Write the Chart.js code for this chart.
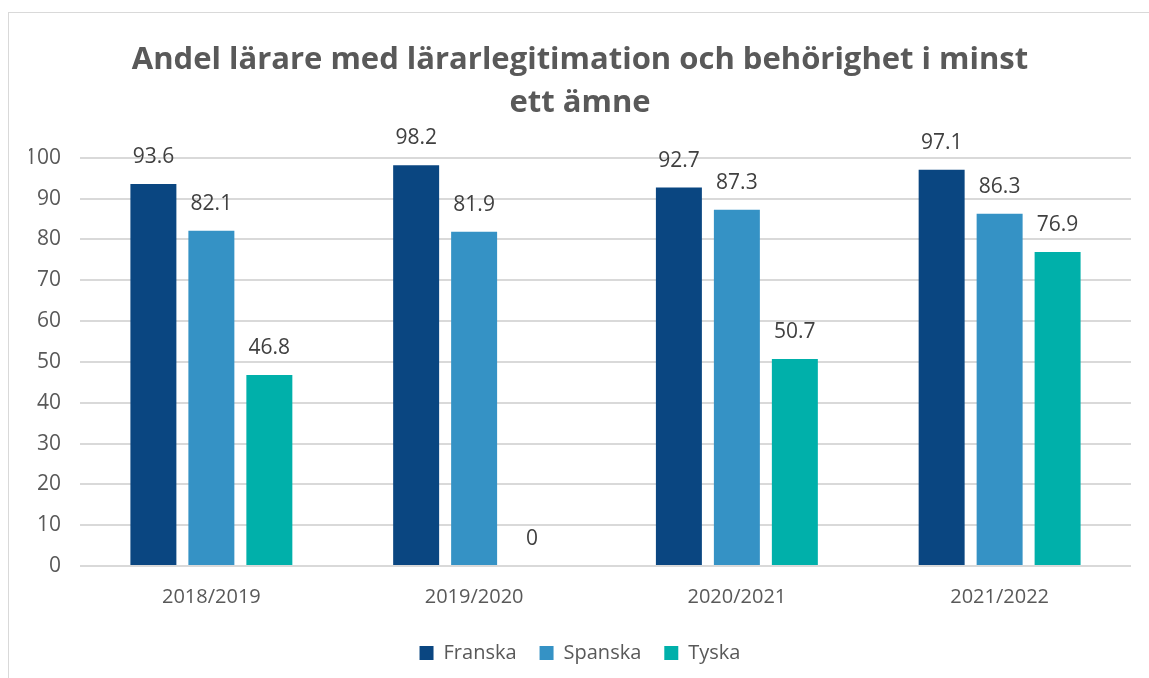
<!DOCTYPE html>
<html>
<head>
<meta charset="utf-8">
<script src="https://cdn.jsdelivr.net/npm/chart.js@4"></script>
<style>
  html, body { margin: 0; padding: 0; background: #fff; }
  #wrap { position: relative; width: 1149px; height: 678px; }
  #frame { position: absolute; left: 8px; top: 12px; width: 1160px; height: 700px; border: 1px solid #d9d9d9; box-sizing: border-box; }
  canvas { position: absolute; left: 0; top: 0; }
</style>
</head>
<body>
<div id="wrap">
  <div id="frame"></div>
  <canvas id="graphicBar" width="1149" height="678"></canvas>
</div>
<script>
const years = ["2018/2019", "2019/2020", "2020/2021", "2021/2022"];
const franska = [93.6, 98.2, 92.7, 97.1];
const spanska = [82.1, 81.9, 87.3, 86.3];
const tyska = [46.8, 0, 50.7, 76.9];
const titleLines = ["Andel lärare med lärarlegitimation och behörighet i minst", "ett ämne"];

const fontFam = "'Open Sans', 'Liberation Sans', sans-serif";

// labels above bars
const barLabels = {
  id: "barLabels",
  afterDatasetsDraw(chart) {
    const ctx = chart.ctx;
    ctx.save();
    ctx.font = "21px " + fontFam;
    ctx.fillStyle = "#404040";
    ctx.textAlign = "center";
    ctx.textBaseline = "middle";
    chart.data.datasets.forEach((ds, i) => {
      chart.getDatasetMeta(i).data.forEach((bar, j) => {
        ctx.fillText(String(ds.data[j]), bar.x, bar.y - 27);
      });
    });
    ctx.restore();
  }
};

const graphicBar = document.getElementById("graphicBar");

new Chart(graphicBar, {
  type: "bar",
  data: {
    labels: years,
    datasets: [
      { label: "Franska", data: franska, backgroundColor: "#0A4681" },
      { label: "Spanska", data: spanska, backgroundColor: "#3592C5" },
      { label: "Tyska", data: tyska, backgroundColor: "#00B0AA" },
    ],
  },
  options: {
    responsive: false,
    animation: false,
    layout: {
      padding: { left: 29, right: 18, top: 13, bottom: 5 }
    },
    datasets: {
      bar: { categoryPercentage: 0.662, barPercentage: 0.793 }
    },
    scales: {
      x: {
        grid: { display: false },
        border: { display: false },
        ticks: { color: "#595959", font: { size: 20, family: fontFam }, padding: 11 }
      },
      y: {
        min: 0,
        max: 100,
        afterFit(scale) { scale.width = 51; },
        grid: { color: "#d9d9d9", lineWidth: 2, drawTicks: false },
        border: { display: false },
        ticks: { stepSize: 10, color: "#595959", font: { size: 21, family: fontFam }, padding: 19 }
      }
    },
    plugins: {
      title: {
        display: true,
        text: titleLines,
        color: "#595959",
        font: { size: 31, weight: "bold", family: fontFam, lineHeight: 1.4 },
        padding: { top: 25, bottom: 33 }
      },
      legend: {
        position: "bottom",
        labels: {
          boxWidth: 14,
          boxHeight: 14,
          padding: 23,
          color: "#595959",
          font: { size: 20, family: fontFam }
        }
      },
      tooltip: { enabled: false }
    }
  },
  plugins: [barLabels]
});
</script>
</body>
</html>
